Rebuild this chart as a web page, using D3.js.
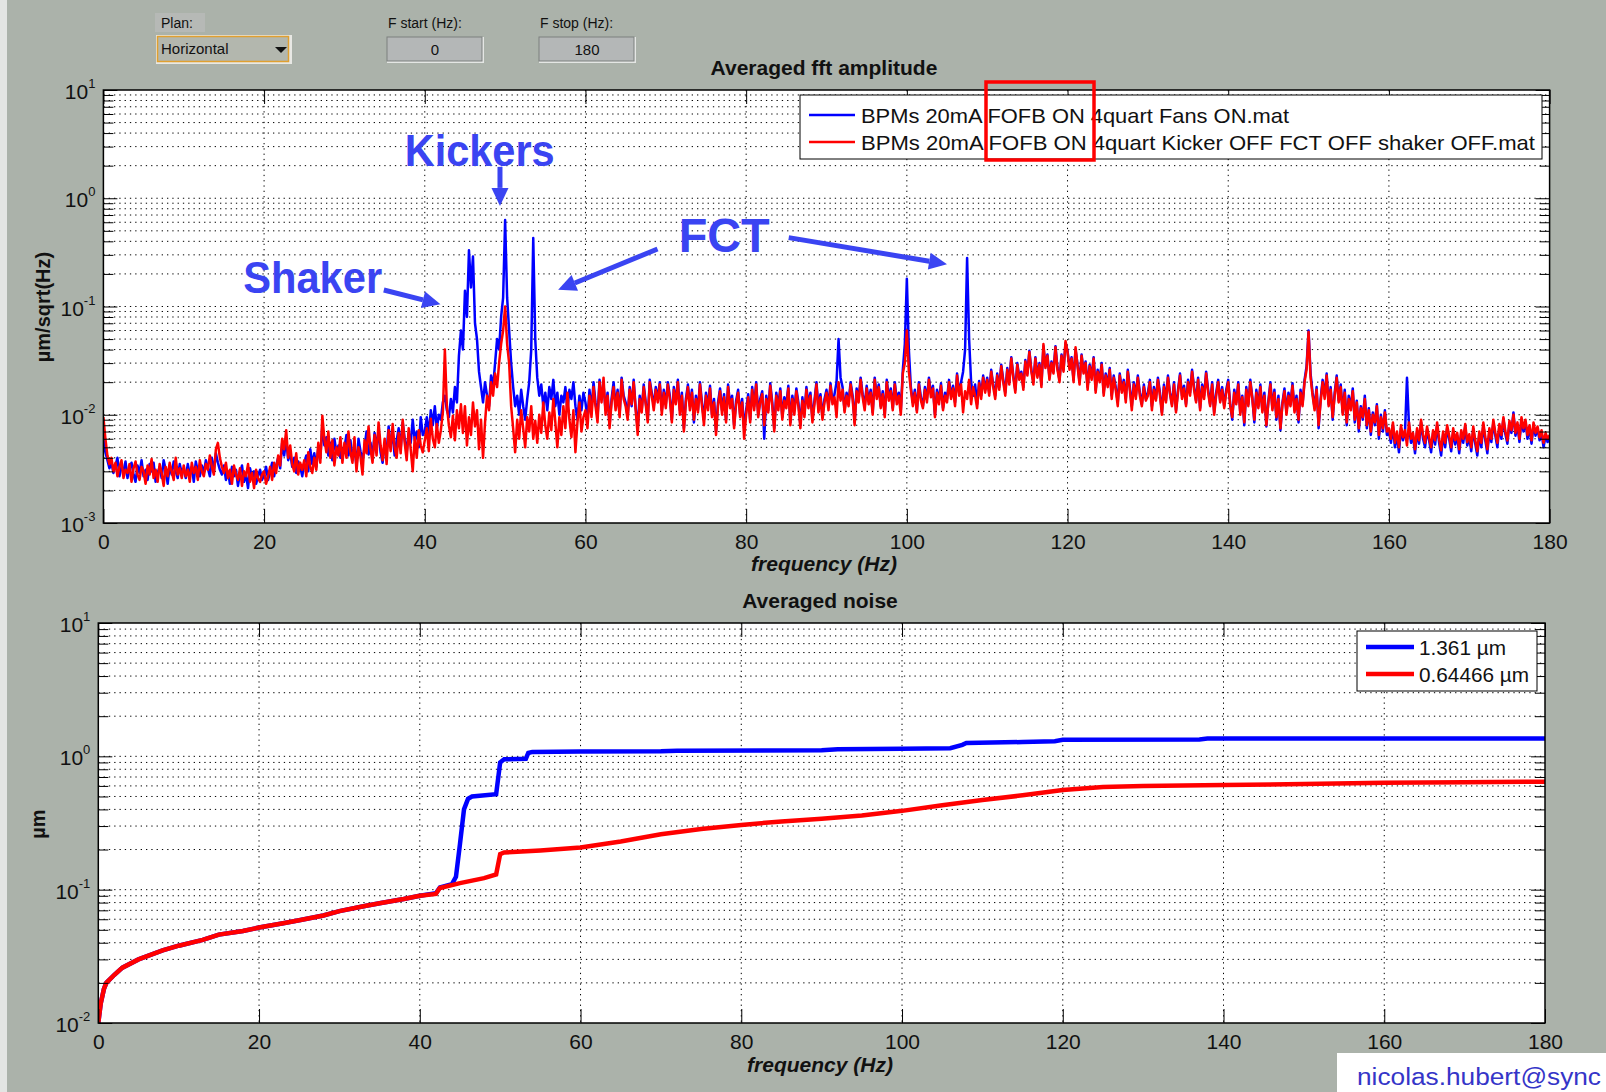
<!DOCTYPE html>
<html><head><meta charset="utf-8">
<script src="https://cdn.jsdelivr.net/npm/d3@7"></script>
<style>
html,body{margin:0;padding:0;background:#abb2aa;overflow:hidden;}
svg{display:block;}
text{font-family:"Liberation Sans",Arial,sans-serif;}
</style></head><body>
<svg id="chart" width="1606" height="1092"></svg>
<script>
// ---------------- DATA ----------------
const xTicks = [0,20,40,60,80,100,120,140,160,180];
const topDecades = [1e-3,1e-2,1e-1,1e0,1e1];
const topExponents = ["-3","-2","-1","0","1"];
const botDecades = [1e-2,1e-1,1e0,1e1];
const botExponents = ["-2","-1","0","1"];
const fftStartHz = 0, fftStepHz = 0.25;
const legendTop = ["BPMs 20mA FOFB ON 4quart Fans ON.mat","BPMs 20mA FOFB ON 4quart Kicker OFF FCT OFF shaker OFF.mat"];
const legendBottom = ["1.361 \u00b5m","0.64466 \u00b5m"];

// Averaged fft amplitude, blue = Fans ON (um/sqrt(Hz)), one value every 0.25 Hz, 0..180 Hz
const fftBlue = [
0.0060,0.0045,0.0038,0.0032,0.0036,0.0029,0.0034,0.0040,0.0027,0.0033,0.0030,0.0037,0.0026,0.0032,0.0036,0.0028,0.0024,0.0034,0.0029,0.0038,
0.0027,0.0031,0.0025,0.0035,0.0030,0.0036,0.0024,0.0029,0.0033,0.0026,0.0038,0.0031,0.0023,0.0034,0.0028,0.0037,0.0030,0.0026,0.0035,0.0029,
0.0031,0.0026,0.0035,0.0028,0.0033,0.0024,0.0037,0.0030,0.0027,0.0034,0.0029,0.0038,0.0032,0.0027,0.0040,0.0030,0.0044,0.0036,0.0031,0.0028,
0.0034,0.0025,0.0030,0.0023,0.0033,0.0027,0.0031,0.0022,0.0029,0.0034,0.0024,0.0028,0.0021,0.0032,0.0026,0.0030,0.0023,0.0027,0.0031,0.0025,
0.0028,0.0033,0.0025,0.0030,0.0036,0.0027,0.0034,0.0040,0.0032,0.0055,0.0042,0.0060,0.0038,0.0045,0.0033,0.0040,0.0029,0.0037,0.0033,0.0027,
0.0036,0.0042,0.0030,0.0048,0.0035,0.0044,0.0033,0.0050,0.0040,0.0080,0.0052,0.0062,0.0042,0.0055,0.0038,0.0060,0.0045,0.0052,0.0040,0.0048,
0.0050,0.0065,0.0042,0.0058,0.0038,0.0052,0.0033,0.0060,0.0046,0.0038,0.0050,0.0070,0.0043,0.0055,0.0040,0.0068,0.0050,0.0072,0.0045,0.0036,
0.0055,0.0045,0.0078,0.0052,0.0068,0.0042,0.0058,0.0075,0.0048,0.0085,0.0060,0.0045,0.0068,0.0055,0.0090,0.0058,0.0070,0.0050,0.0095,0.0065,
0.0070,0.0095,0.0065,0.0110,0.0080,0.0120,0.0075,0.0100,0.0090,0.0130,0.0150,0.0110,0.0095,0.0140,0.0105,0.0180,0.0130,0.0350,0.0600,0.0400,
0.1400,0.0800,0.3300,0.1500,0.2900,0.0700,0.0500,0.0250,0.0180,0.0130,0.0200,0.0150,0.0120,0.0230,0.0180,0.0300,0.0500,0.0400,0.0800,0.1200,
0.6300,0.1200,0.0600,0.0300,0.0180,0.0120,0.0150,0.0100,0.0170,0.0120,0.0090,0.0140,0.0200,0.0400,0.4300,0.0500,0.0220,0.0150,0.0190,0.0120,
0.0160,0.0110,0.0180,0.0140,0.0210,0.0120,0.0160,0.0100,0.0150,0.0130,0.0180,0.0110,0.0170,0.0140,0.0200,0.0120,0.0090,0.0150,0.0110,0.0160,
0.0130,0.0090,0.0170,0.0110,0.0200,0.0130,0.0095,0.0210,0.0140,0.0190,0.0110,0.0160,0.0080,0.0140,0.0200,0.0120,0.0170,0.0100,0.0220,0.0150,
0.0130,0.0095,0.0180,0.0120,0.0210,0.0115,0.0075,0.0150,0.0110,0.0190,0.0130,0.0090,0.0210,0.0160,0.0120,0.0180,0.0140,0.0200,0.0110,0.0170,
0.0125,0.0200,0.0150,0.0090,0.0180,0.0130,0.0210,0.0110,0.0160,0.0075,0.0140,0.0190,0.0120,0.0170,0.0085,0.0150,0.0110,0.0200,0.0130,0.0090,
0.0160,0.0120,0.0185,0.0100,0.0140,0.0070,0.0130,0.0175,0.0110,0.0155,0.0090,0.0190,0.0125,0.0150,0.0080,0.0135,0.0170,0.0100,0.0140,0.0075,
0.0110,0.0155,0.0090,0.0180,0.0120,0.0200,0.0100,0.0140,0.0165,0.0060,0.0150,0.0110,0.0195,0.0130,0.0075,0.0160,0.0120,0.0175,0.0095,0.0145,
0.0125,0.0185,0.0085,0.0150,0.0110,0.0175,0.0130,0.0080,0.0145,0.0100,0.0180,0.0125,0.0160,0.0090,0.0135,0.0200,0.0115,0.0155,0.0095,0.0140,
0.0170,0.0120,0.0195,0.0130,0.0155,0.0200,0.0500,0.0220,0.0180,0.0110,0.0160,0.0130,0.0200,0.0150,0.0085,0.0175,0.0140,0.0220,0.0155,0.0120,
0.0185,0.0135,0.0170,0.0105,0.0220,0.0150,0.0190,0.0120,0.0165,0.0100,0.0210,0.0145,0.0175,0.0115,0.0200,0.0135,0.0160,0.0110,0.0260,0.0450,
0.1800,0.0400,0.0180,0.0130,0.0170,0.0110,0.0200,0.0145,0.0120,0.0180,0.0140,0.0220,0.0155,0.0185,0.0100,0.0170,0.0135,0.0195,0.0115,0.0160,
0.0140,0.0210,0.0150,0.0185,0.0130,0.0240,0.0160,0.0200,0.0250,0.0400,0.2800,0.0500,0.0200,0.0150,0.0190,0.0125,0.0205,0.0150,0.0230,0.0170,
0.0220,0.0160,0.0260,0.0190,0.0150,0.0240,0.0180,0.0290,0.0210,0.0160,0.0270,0.0200,0.0340,0.0230,0.0170,0.0300,0.0220,0.0250,0.0180,0.0320,
0.0240,0.0390,0.0260,0.0200,0.0340,0.0230,0.0300,0.0190,0.0430,0.0280,0.0360,0.0220,0.0310,0.0250,0.0430,0.0270,0.0210,0.0360,0.0260,0.0460,
0.0390,0.0270,0.0340,0.0210,0.0400,0.0290,0.0200,0.0360,0.0250,0.0310,0.0180,0.0290,0.0220,0.0340,0.0170,0.0260,0.0210,0.0300,0.0160,0.0240,
0.0190,0.0270,0.0150,0.0230,0.0180,0.0130,0.0240,0.0170,0.0210,0.0140,0.0260,0.0180,0.0120,0.0200,0.0150,0.0230,0.0160,0.0125,0.0190,0.0140,
0.0160,0.0210,0.0120,0.0180,0.0140,0.0220,0.0160,0.0105,0.0190,0.0135,0.0230,0.0160,0.0125,0.0200,0.0110,0.0170,0.0240,0.0150,0.0185,0.0125,
0.0210,0.0160,0.0260,0.0180,0.0135,0.0220,0.0115,0.0190,0.0150,0.0250,0.0170,0.0125,0.0200,0.0105,0.0160,0.0210,0.0135,0.0180,0.0120,0.0170,
0.0210,0.0125,0.0090,0.0170,0.0130,0.0200,0.0105,0.0150,0.0080,0.0180,0.0125,0.0210,0.0145,0.0085,0.0170,0.0120,0.0190,0.0110,0.0160,0.0078,
0.0135,0.0200,0.0115,0.0170,0.0090,0.0150,0.0072,0.0130,0.0175,0.0105,0.0160,0.0125,0.0195,0.0110,0.0150,0.0085,0.0170,0.0125,0.0210,0.0280,
0.0600,0.0240,0.0160,0.0115,0.0180,0.0075,0.0140,0.0210,0.0150,0.0240,0.0125,0.0180,0.0090,0.0160,0.0230,0.0135,0.0190,0.0105,0.0170,0.0080,
0.0150,0.0115,0.0175,0.0085,0.0135,0.0070,0.0120,0.0090,0.0150,0.0075,0.0115,0.0065,0.0105,0.0080,0.0125,0.0060,0.0100,0.0070,0.0110,0.0065,
0.0070,0.0055,0.0080,0.0050,0.0065,0.0045,0.0075,0.0058,0.0068,0.0220,0.0080,0.0055,0.0064,0.0044,0.0070,0.0054,0.0085,0.0060,0.0050,0.0073,
0.0058,0.0045,0.0068,0.0053,0.0080,0.0055,0.0042,0.0066,0.0050,0.0075,0.0060,0.0046,0.0070,0.0053,0.0064,0.0044,0.0068,0.0055,0.0078,0.0052,
0.0062,0.0046,0.0074,0.0054,0.0042,0.0066,0.0050,0.0080,0.0058,0.0044,0.0070,0.0056,0.0085,0.0064,0.0050,0.0078,0.0060,0.0092,0.0066,0.0054,
0.0084,0.0068,0.0105,0.0064,0.0080,0.0056,0.0090,0.0070,0.0086,0.0060,0.0076,0.0054,0.0080,0.0064,0.0074,0.0058,0.0068,0.0050,0.0064,0.0056,
0.0060];

// red = Kicker OFF FCT OFF shaker OFF
const fftRed = [
0.0095,0.0060,0.0042,0.0035,0.0040,0.0030,0.0036,0.0027,0.0033,0.0038,0.0026,0.0031,0.0029,0.0035,0.0024,0.0032,0.0037,0.0028,0.0025,0.0033,
0.0030,0.0023,0.0034,0.0028,0.0039,0.0026,0.0031,0.0024,0.0035,0.0029,0.0022,0.0033,0.0027,0.0036,0.0030,0.0025,0.0040,0.0028,0.0032,0.0026,
0.0034,0.0027,0.0031,0.0024,0.0036,0.0029,0.0033,0.0025,0.0038,0.0030,0.0027,0.0035,0.0031,0.0042,0.0033,0.0028,0.0048,0.0055,0.0040,0.0033,
0.0029,0.0036,0.0026,0.0031,0.0023,0.0034,0.0028,0.0025,0.0032,0.0022,0.0030,0.0027,0.0035,0.0024,0.0029,0.0021,0.0031,0.0026,0.0024,0.0028,
0.0030,0.0023,0.0027,0.0033,0.0025,0.0036,0.0029,0.0042,0.0034,0.0060,0.0048,0.0072,0.0040,0.0052,0.0035,0.0030,0.0044,0.0028,0.0036,0.0031,
0.0038,0.0027,0.0045,0.0033,0.0029,0.0040,0.0031,0.0055,0.0036,0.0098,0.0060,0.0045,0.0070,0.0040,0.0058,0.0034,0.0050,0.0042,0.0062,0.0036,
0.0055,0.0040,0.0070,0.0045,0.0036,0.0062,0.0030,0.0050,0.0041,0.0028,0.0058,0.0044,0.0078,0.0048,0.0036,0.0065,0.0042,0.0085,0.0052,0.0038,
0.0060,0.0035,0.0072,0.0046,0.0082,0.0050,0.0040,0.0068,0.0044,0.0090,0.0055,0.0038,0.0075,0.0048,0.0030,0.0062,0.0040,0.0072,0.0052,0.0045,
0.0058,0.0075,0.0046,0.0092,0.0060,0.0050,0.0082,0.0055,0.0072,0.0105,0.0400,0.0120,0.0080,0.0062,0.0098,0.0058,0.0110,0.0075,0.0125,0.0068,
0.0120,0.0052,0.0095,0.0065,0.0130,0.0078,0.0110,0.0048,0.0090,0.0040,0.0085,0.0150,0.0110,0.0200,0.0150,0.0240,0.0180,0.0300,0.0450,0.0600,
0.1000,0.0450,0.0300,0.0120,0.0075,0.0045,0.0090,0.0060,0.0110,0.0075,0.0050,0.0095,0.0070,0.0120,0.0060,0.0088,0.0055,0.0100,0.0068,0.0130,
0.0080,0.0060,0.0105,0.0072,0.0140,0.0085,0.0050,0.0095,0.0065,0.0120,0.0075,0.0160,0.0090,0.0062,0.0110,0.0045,0.0085,0.0130,0.0070,0.0095,
0.0110,0.0075,0.0150,0.0095,0.0180,0.0120,0.0085,0.0200,0.0130,0.0220,0.0100,0.0150,0.0075,0.0130,0.0180,0.0110,0.0160,0.0095,0.0210,0.0140,
0.0120,0.0090,0.0170,0.0125,0.0200,0.0110,0.0065,0.0140,0.0105,0.0180,0.0125,0.0085,0.0200,0.0150,0.0110,0.0170,0.0130,0.0190,0.0100,0.0160,
0.0115,0.0190,0.0140,0.0085,0.0170,0.0125,0.0200,0.0100,0.0150,0.0070,0.0130,0.0180,0.0110,0.0160,0.0090,0.0140,0.0105,0.0190,0.0120,0.0080,
0.0150,0.0110,0.0175,0.0095,0.0130,0.0065,0.0120,0.0165,0.0100,0.0145,0.0085,0.0180,0.0115,0.0140,0.0075,0.0125,0.0160,0.0095,0.0130,0.0060,
0.0100,0.0145,0.0085,0.0170,0.0110,0.0190,0.0095,0.0130,0.0155,0.0080,0.0140,0.0105,0.0185,0.0120,0.0070,0.0150,0.0110,0.0165,0.0090,0.0135,
0.0115,0.0175,0.0080,0.0140,0.0100,0.0165,0.0120,0.0075,0.0135,0.0095,0.0170,0.0115,0.0150,0.0085,0.0125,0.0190,0.0105,0.0145,0.0090,0.0130,
0.0160,0.0110,0.0185,0.0125,0.0145,0.0095,0.0200,0.0135,0.0170,0.0105,0.0150,0.0120,0.0190,0.0140,0.0080,0.0165,0.0130,0.0210,0.0145,0.0110,
0.0175,0.0125,0.0160,0.0100,0.0210,0.0140,0.0180,0.0115,0.0155,0.0095,0.0200,0.0135,0.0165,0.0110,0.0190,0.0125,0.0150,0.0100,0.0240,0.0300,
0.0600,0.0250,0.0170,0.0120,0.0160,0.0105,0.0190,0.0135,0.0115,0.0170,0.0130,0.0210,0.0145,0.0175,0.0095,0.0160,0.0125,0.0185,0.0110,0.0150,
0.0130,0.0200,0.0140,0.0175,0.0120,0.0230,0.0150,0.0190,0.0105,0.0165,0.0140,0.0210,0.0125,0.0180,0.0150,0.0115,0.0195,0.0140,0.0220,0.0160,
0.0210,0.0150,0.0250,0.0180,0.0140,0.0230,0.0170,0.0280,0.0200,0.0150,0.0260,0.0190,0.0330,0.0220,0.0160,0.0290,0.0210,0.0240,0.0170,0.0310,
0.0230,0.0380,0.0250,0.0190,0.0330,0.0220,0.0290,0.0180,0.0450,0.0270,0.0350,0.0210,0.0300,0.0240,0.0420,0.0260,0.0200,0.0350,0.0250,0.0480,
0.0380,0.0260,0.0330,0.0200,0.0420,0.0280,0.0190,0.0350,0.0240,0.0300,0.0170,0.0280,0.0210,0.0330,0.0160,0.0250,0.0200,0.0290,0.0150,0.0230,
0.0180,0.0260,0.0140,0.0220,0.0170,0.0120,0.0230,0.0160,0.0200,0.0130,0.0250,0.0170,0.0110,0.0190,0.0140,0.0220,0.0150,0.0120,0.0180,0.0135,
0.0150,0.0200,0.0110,0.0170,0.0135,0.0210,0.0150,0.0100,0.0180,0.0130,0.0220,0.0155,0.0120,0.0190,0.0105,0.0160,0.0230,0.0140,0.0175,0.0120,
0.0200,0.0150,0.0250,0.0170,0.0130,0.0210,0.0110,0.0180,0.0140,0.0240,0.0160,0.0120,0.0190,0.0100,0.0150,0.0200,0.0130,0.0170,0.0115,0.0160,
0.0200,0.0120,0.0095,0.0160,0.0125,0.0190,0.0100,0.0145,0.0085,0.0170,0.0120,0.0200,0.0140,0.0090,0.0160,0.0115,0.0180,0.0105,0.0150,0.0080,
0.0130,0.0190,0.0110,0.0160,0.0095,0.0140,0.0075,0.0125,0.0165,0.0100,0.0150,0.0120,0.0185,0.0105,0.0140,0.0090,0.0160,0.0120,0.0200,0.0260,
0.0580,0.0220,0.0150,0.0110,0.0170,0.0080,0.0130,0.0200,0.0140,0.0230,0.0120,0.0170,0.0095,0.0150,0.0220,0.0130,0.0180,0.0100,0.0160,0.0085,
0.0140,0.0110,0.0165,0.0090,0.0130,0.0075,0.0115,0.0095,0.0140,0.0080,0.0110,0.0070,0.0100,0.0085,0.0120,0.0065,0.0095,0.0075,0.0105,0.0070,
0.0075,0.0060,0.0085,0.0055,0.0070,0.0050,0.0080,0.0062,0.0072,0.0052,0.0085,0.0060,0.0068,0.0048,0.0075,0.0058,0.0090,0.0065,0.0055,0.0078,
0.0062,0.0050,0.0072,0.0058,0.0085,0.0060,0.0047,0.0070,0.0055,0.0080,0.0064,0.0050,0.0075,0.0058,0.0068,0.0048,0.0072,0.0060,0.0082,0.0056,
0.0066,0.0050,0.0078,0.0058,0.0046,0.0070,0.0055,0.0085,0.0062,0.0048,0.0075,0.0060,0.0090,0.0068,0.0055,0.0082,0.0065,0.0095,0.0070,0.0058,
0.0088,0.0072,0.0100,0.0068,0.0085,0.0060,0.0095,0.0075,0.0090,0.0065,0.0080,0.0058,0.0085,0.0068,0.0078,0.0062,0.0072,0.0055,0.0068,0.0060,
0.0065];

// Averaged (cumulated) noise, um
const noiseBlueHz = [0,0.3,0.7,1,2,3,5,8,10,13,15,18,20,23,25,28,30,33,35,38,40,42,42.5,44,44.5,45,45.5,46,46.5,49.5,50,50.5,53.2,53.5,54,60,70,72,90,92,100,106,107.5,108,115,119,120,137,138,180];
const noiseBlue = [0.010,0.014,0.018,0.020,0.023,0.026,0.030,0.035,0.038,0.042,0.046,0.049,0.052,0.056,0.059,0.064,0.069,0.075,0.079,0.085,0.090,0.094,0.104,0.110,0.125,0.22,0.40,0.48,0.50,0.52,0.90,0.95,0.96,1.06,1.08,1.085,1.09,1.10,1.11,1.13,1.14,1.15,1.22,1.26,1.28,1.30,1.33,1.34,1.36,1.361];
const noiseRedHz = [0,0.3,0.7,1,2,3,5,8,10,13,15,18,20,23,25,28,30,33,35,38,40,42,42.5,45,48,49.5,50,50.5,55,60,65,70,75,80,85,90,95,100,105,110,115,120,125,130,140,150,160,170,180];
const noiseRed = [0.010,0.014,0.018,0.020,0.023,0.026,0.030,0.035,0.038,0.042,0.046,0.049,0.052,0.056,0.059,0.064,0.069,0.075,0.079,0.085,0.090,0.093,0.103,0.112,0.122,0.130,0.185,0.190,0.197,0.207,0.23,0.26,0.285,0.306,0.325,0.34,0.36,0.39,0.43,0.47,0.51,0.56,0.59,0.60,0.61,0.62,0.633,0.64,0.64466];

// annotations (in data units of the top panel: Hz, um/sqrt(Hz))
const annoTexts = [{t:"Kickers",f:37.5,v:1.99,w:150,s:44},{t:"Shaker",f:17.4,v:0.133,w:139,s:44},{t:"FCT",f:71.6,v:0.318,w:91,s:48}];
const annoArrows = [{f0:49.36,v0:1.95,f1:49.36,v1:0.85},{f0:34.9,v0:0.142,f1:41.95,v1:0.105},{f0:68.97,v0:0.34,f1:56.6,v1:0.1426},{f0:85.3,v0:0.433,f1:105.0,v1:0.246}];

// ---------------- DRAW ----------------
const svg = d3.select("#chart");
svg.append("rect").attr("width",1606).attr("height",1092).attr("fill","#abb2aa");
svg.append("rect").attr("width",7).attr("height",1092).attr("fill","#e3e5e3");

const xTop = d3.scaleLinear().domain([0,180]).range([103.4,1549.6]);
const yTop = d3.scaleLog().domain([1e-3,1e1]).range([523,90]);
const xBot = d3.scaleLinear().domain([0,180]).range([98.3,1545]);
const yBot = d3.scaleLog().domain([1e-2,1e1]).range([1023,623]);

function minorVals(dec){const a=[];for(let i=0;i<dec.length-1;i++)for(let k=2;k<=9;k++)a.push(dec[i]*k);return a;}

function panelBack(x,y,dec){
  const [X0,X1]=x.range(),Y1=y.range()[0],Y0=y.range()[1];
  const g=svg.append("g");
  g.append("rect").attr("x",X0).attr("y",Y0).attr("width",X1-X0).attr("height",Y1-Y0).attr("fill","#fff");
  const hv=minorVals(dec).concat(dec.slice(1,-1));
  g.selectAll("line.h").data(hv).join("line").attr("class","h")
   .attr("x1",X0).attr("x2",X1).attr("y1",d=>y(d)).attr("y2",d=>y(d))
   .attr("stroke","#000").attr("stroke-width",1).attr("stroke-dasharray","1.3,4");
  g.selectAll("line.v").data(xTicks.slice(1,-1)).join("line").attr("class","v")
   .attr("y1",Y0).attr("y2",Y1).attr("x1",d=>x(d)).attr("x2",d=>x(d))
   .attr("stroke","#000").attr("stroke-width",1).attr("stroke-dasharray","1.3,4");
}

function panelAxes(x,y,dec,exps){
  const [X0,X1]=x.range(),Y1=y.range()[0],Y0=y.range()[1];
  const g=svg.append("g");
  const clean=s=>{s.select(".domain").remove();s.selectAll("line").attr("stroke","#000").attr("stroke-width",1);};
  const b=g.append("g").attr("transform",`translate(0,${Y1})`)
    .call(d3.axisBottom(x).tickValues(xTicks).tickSize(-14).tickSizeOuter(0).tickPadding(11).tickFormat(d3.format("d"))).call(clean);
  b.selectAll("text").attr("font-size",21).attr("fill","#111").attr("font-family","'Liberation Sans',Arial,sans-serif");
  g.append("g").attr("transform",`translate(0,${Y0})`)
    .call(d3.axisTop(x).tickValues(xTicks).tickSize(-14).tickSizeOuter(0).tickFormat("")).call(clean);
  const mv=minorVals(dec);
  g.append("g").attr("transform",`translate(${X0},0)`).call(d3.axisLeft(y).tickValues(mv).tickSize(-10).tickSizeOuter(0).tickFormat("")).call(clean);
  g.append("g").attr("transform",`translate(${X0},0)`).call(d3.axisLeft(y).tickValues(dec).tickSize(-14).tickSizeOuter(0).tickFormat("")).call(clean);
  g.append("g").attr("transform",`translate(${X1},0)`).call(d3.axisRight(y).tickValues(mv).tickSize(-10).tickSizeOuter(0).tickFormat("")).call(clean);
  g.append("g").attr("transform",`translate(${X1},0)`).call(d3.axisRight(y).tickValues(dec).tickSize(-14).tickSizeOuter(0).tickFormat("")).call(clean);
  g.append("rect").attr("x",X0).attr("y",Y0).attr("width",X1-X0).attr("height",Y1-Y0).attr("fill","none").attr("stroke","#000").attr("stroke-width",1.5);
  const lab=g.selectAll("text.yl").data(dec).join("text").attr("class","yl")
    .attr("x",X0-8).attr("y",d=>y(d)+9).attr("text-anchor","end").attr("font-size",21).attr("fill","#111");
  lab.append("tspan").text("10");
  lab.append("tspan").attr("dy",-11).attr("font-size",13).text((d,i)=>exps[i]);
}

// ---- top panel ----
panelBack(xTop,yTop,topDecades);
svg.append("clipPath").attr("id","clipTop").append("rect").attr("x",103.4).attr("y",90).attr("width",1446.2).attr("height",433);
const lineTop=d3.line().x((d,i)=>xTop(fftStartHz+i*fftStepHz)).y(d=>yTop(d));
const gTop=svg.append("g").attr("clip-path","url(#clipTop)");
gTop.append("path").attr("d",lineTop(fftBlue)).attr("fill","none").attr("stroke","#0000ff").attr("stroke-width",2.5).attr("stroke-linejoin","round");
gTop.append("path").attr("d",lineTop(fftRed)).attr("fill","none").attr("stroke","#ff0000").attr("stroke-width",2.5).attr("stroke-linejoin","round");
panelAxes(xTop,yTop,topDecades,topExponents);

// ---- bottom panel ----
panelBack(xBot,yBot,botDecades);
svg.append("clipPath").attr("id","clipBot").append("rect").attr("x",98.3).attr("y",623).attr("width",1446.7).attr("height",400);
const lineBot=d3.line().x(d=>xBot(d[0])).y(d=>yBot(d[1]));
const gBot=svg.append("g").attr("clip-path","url(#clipBot)");
gBot.append("path").attr("d",lineBot(d3.zip(noiseBlueHz,noiseBlue))).attr("fill","none").attr("stroke","#0000ff").attr("stroke-width",4.5);
gBot.append("path").attr("d",lineBot(d3.zip(noiseRedHz,noiseRed))).attr("fill","none").attr("stroke","#ff0000").attr("stroke-width",4.5);
panelAxes(xBot,yBot,botDecades,botExponents);

// ---- titles & labels ----
svg.append("text").attr("x",824).attr("y",75).attr("text-anchor","middle").attr("font-weight","bold").attr("font-size",21).attr("fill","#111").text("Averaged fft amplitude");
svg.append("text").attr("x",820).attr("y",608).attr("text-anchor","middle").attr("font-weight","bold").attr("font-size",21).attr("fill","#111").text("Averaged noise");
svg.append("text").attr("x",824).attr("y",571).attr("text-anchor","middle").attr("font-weight","bold").attr("font-style","italic").attr("font-size",21).attr("fill","#111").text("frequency (Hz)");
svg.append("text").attr("x",820).attr("y",1072).attr("text-anchor","middle").attr("font-weight","bold").attr("font-style","italic").attr("font-size",21).attr("fill","#111").text("frequency (Hz)");
svg.append("text").attr("transform","translate(50,307) rotate(-90)").attr("text-anchor","middle").attr("font-weight","bold").attr("font-size",20).attr("fill","#111").text("\u00b5m/sqrt(Hz)");
svg.append("text").attr("transform","translate(45,824) rotate(-90)").attr("text-anchor","middle").attr("font-weight","bold").attr("font-size",20).attr("fill","#111").text("\u00b5m");

// ---- legends ----
const lt=svg.append("g");
lt.append("rect").attr("x",800).attr("y",95).attr("width",742).attr("height",64).attr("fill","#fff").attr("stroke","#000").attr("stroke-width",1);
[["#0000ff",115],["#ff0000",142]].forEach((c,i)=>{
  lt.append("line").attr("x1",809).attr("x2",855).attr("y1",c[1]).attr("y2",c[1]).attr("stroke",c[0]).attr("stroke-width",2.6);
  lt.append("text").attr("x",861).attr("y",c[1]+7.5).attr("font-size",21).attr("fill","#111")
    .attr("textLength",i===0?428:674).attr("lengthAdjust","spacingAndGlyphs").text(legendTop[i]);
});
lt.append("rect").attr("x",986).attr("y",82).attr("width",108).attr("height",78).attr("fill","none").attr("stroke","#ff0000").attr("stroke-width",3.5);

const lb=svg.append("g");
lb.append("rect").attr("x",1357).attr("y",631).attr("width",180).attr("height",60).attr("fill","#fff").attr("stroke","#000").attr("stroke-width",1);
[["#0000ff",647],["#ff0000",674]].forEach((c,i)=>{
  lb.append("line").attr("x1",1366).attr("x2",1414).attr("y1",c[1]).attr("y2",c[1]).attr("stroke",c[0]).attr("stroke-width",4.5);
  lb.append("text").attr("x",1419).attr("y",c[1]+7.5).attr("font-size",21).attr("fill","#111")
    .attr("textLength",i===0?87:110).attr("lengthAdjust","spacingAndGlyphs").text(legendBottom[i]);
});

// ---- annotations ----
const annoColor="#3a44f2";
const ga=svg.append("g");
annoTexts.forEach(a=>{
  ga.append("text").attr("x",xTop(a.f)).attr("y",yTop(a.v)).attr("font-weight","bold").attr("font-size",a.s)
    .attr("fill",annoColor).attr("textLength",a.w).attr("lengthAdjust","spacingAndGlyphs").text(a.t);
});
annoArrows.forEach(a=>{
  const x0=xTop(a.f0),y0=yTop(a.v0),x1=xTop(a.f1),y1=yTop(a.v1);
  const L=Math.hypot(x1-x0,y1-y0),ux=(x1-x0)/L,uy=(y1-y0)/L,hl=18,hw=8.5;
  const bx=x1-ux*hl,by=y1-uy*hl;
  ga.append("line").attr("x1",x0).attr("y1",y0).attr("x2",bx).attr("y2",by).attr("stroke",annoColor).attr("stroke-width",5);
  ga.append("path").attr("d",`M${x1},${y1}L${bx-uy*hw},${by+ux*hw}L${bx+uy*hw},${by-ux*hw}Z`).attr("fill",annoColor);
});

// ---- GUI controls ----
const gc=svg.append("g").attr("font-family","'Liberation Sans Narrow','Liberation Sans',sans-serif");
gc.append("rect").attr("x",155).attr("y",13).attr("width",50).attr("height",19).attr("fill","#b6b9b6");
gc.append("text").attr("x",161).attr("y",28).attr("font-size",14).attr("fill","#111").text("Plan:");
gc.append("rect").attr("x",156).attr("y",35).attr("width",136).attr("height",29).attr("fill","#e8e8e4");
gc.append("rect").attr("x",157.5).attr("y",36.5).attr("width",131).attr("height",25).attr("fill","#b3b7ae").attr("stroke","#e0a030").attr("stroke-width",1.5);
gc.append("text").attr("x",161).attr("y",54).attr("font-size",15).attr("fill","#111").text("Horizontal");
gc.append("path").attr("d","M275,47L287,47L281,53Z").attr("fill","#111");
gc.append("text").attr("x",388).attr("y",28).attr("font-size",14).attr("fill","#111").text("F start (Hz):");
gc.append("text").attr("x",540).attr("y",28).attr("font-size",14).attr("fill","#111").text("F stop (Hz):");
[[387,"0"],[539,"180"]].forEach(b=>{
  gc.append("rect").attr("x",b[0]).attr("y",37).attr("width",97).attr("height",26).attr("fill","#e4e6e4");
  gc.append("rect").attr("x",b[0]).attr("y",37).attr("width",95).attr("height",24).attr("fill","#b4b7b7").attr("stroke","#7d807f").attr("stroke-width",1);
  gc.append("text").attr("x",b[0]+48).attr("y",55).attr("text-anchor","middle").attr("font-size",15).attr("fill","#111").text(b[1]);
});

// ---- footer ----
svg.append("rect").attr("x",1337).attr("y",1053).attr("width",269).attr("height",39).attr("fill","#fff");
svg.append("text").attr("x",1357).attr("y",1085).attr("font-size",23).attr("textLength",244).attr("lengthAdjust","spacingAndGlyphs")
  .attr("fill","#3535c8").text("nicolas.hubert@sync");
</script>
</body></html>
